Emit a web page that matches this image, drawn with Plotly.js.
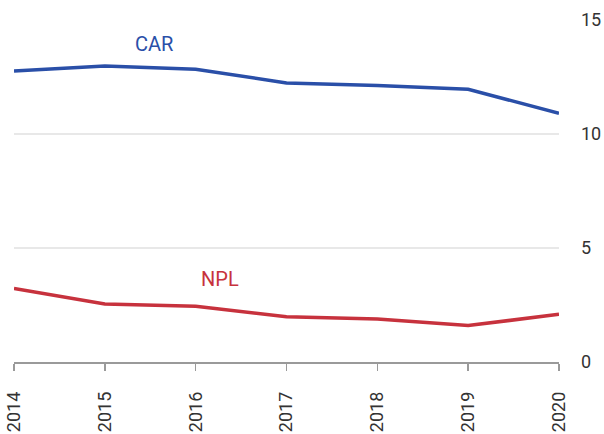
<!DOCTYPE html>
<html><head><meta charset="utf-8">
<script src="https://cdn.plot.ly/plotly-3.0.1.min.js"></script>
<style>body{margin:0;padding:0;}#chart{width:604px;height:434px;}</style>
</head><body><div id="chart"></div>
<script>
const years = [2014, 2015, 2016, 2017, 2018, 2019, 2020];
const car = [12.76, 12.98, 12.84, 12.24, 12.13, 11.96, 10.91];
const npl = [3.23, 2.54, 2.45, 1.98, 1.89, 1.60, 2.09];
const seriesNames = ['CAR', 'NPL'];
const yTicks = [0, 5, 10, 15];

const blue = '#2a4fa8';
const red = '#c7323d';

const traces = [
  {x: years, y: car, type: 'scatter', mode: 'lines', name: seriesNames[0],
   line: {color: blue, width: 3.5}, hoverinfo: 'skip'},
  {x: years, y: npl, type: 'scatter', mode: 'lines', name: seriesNames[1],
   line: {color: red, width: 3.5}, hoverinfo: 'skip'}
];

const layout = {
  width: 604, height: 434,
  margin: {l: 14, r: 45, t: 20, b: 72},
  paper_bgcolor: '#fff', plot_bgcolor: '#fff',
  showlegend: false,
  font: {family: 'Roboto, sans-serif', size: 18, color: '#333'},
  xaxis: {
    type: 'linear', range: [2014, 2020], tickvals: years, ticktext: years.map(String),
    tickangle: -90, ticks: 'outside', ticklen: 7, tickcolor: '#9a9a9a', tickwidth: 1.5,
    showline: true, linecolor: '#9a9a9a', linewidth: 1.5, showgrid: false, zeroline: false,
    tickfont: {size: 18, color: '#333'}, ticklabelstandoff: 14, fixedrange: true
  },
  yaxis: {
    side: 'right', range: [0, 15], tickvals: yTicks, ticks: '',
    showgrid: true, gridcolor: '#e8e8e8', gridwidth: 1.5, zeroline: false, showline: false,
    tickfont: {size: 18, color: '#333'}, ticklabelstandoff: 21, fixedrange: true
  },
  annotations: [
    {x: 2015.54, y: 13.95, xref: 'x', yref: 'y', text: seriesNames[0], showarrow: false,
     font: {size: 20, color: blue}},
    {x: 2016.27, y: 3.64, xref: 'x', yref: 'y', text: seriesNames[1], showarrow: false,
     font: {size: 20, color: red}}
  ]
};

Plotly.newPlot('chart', traces, layout, {displayModeBar: false, staticPlot: true});
</script></body></html>
